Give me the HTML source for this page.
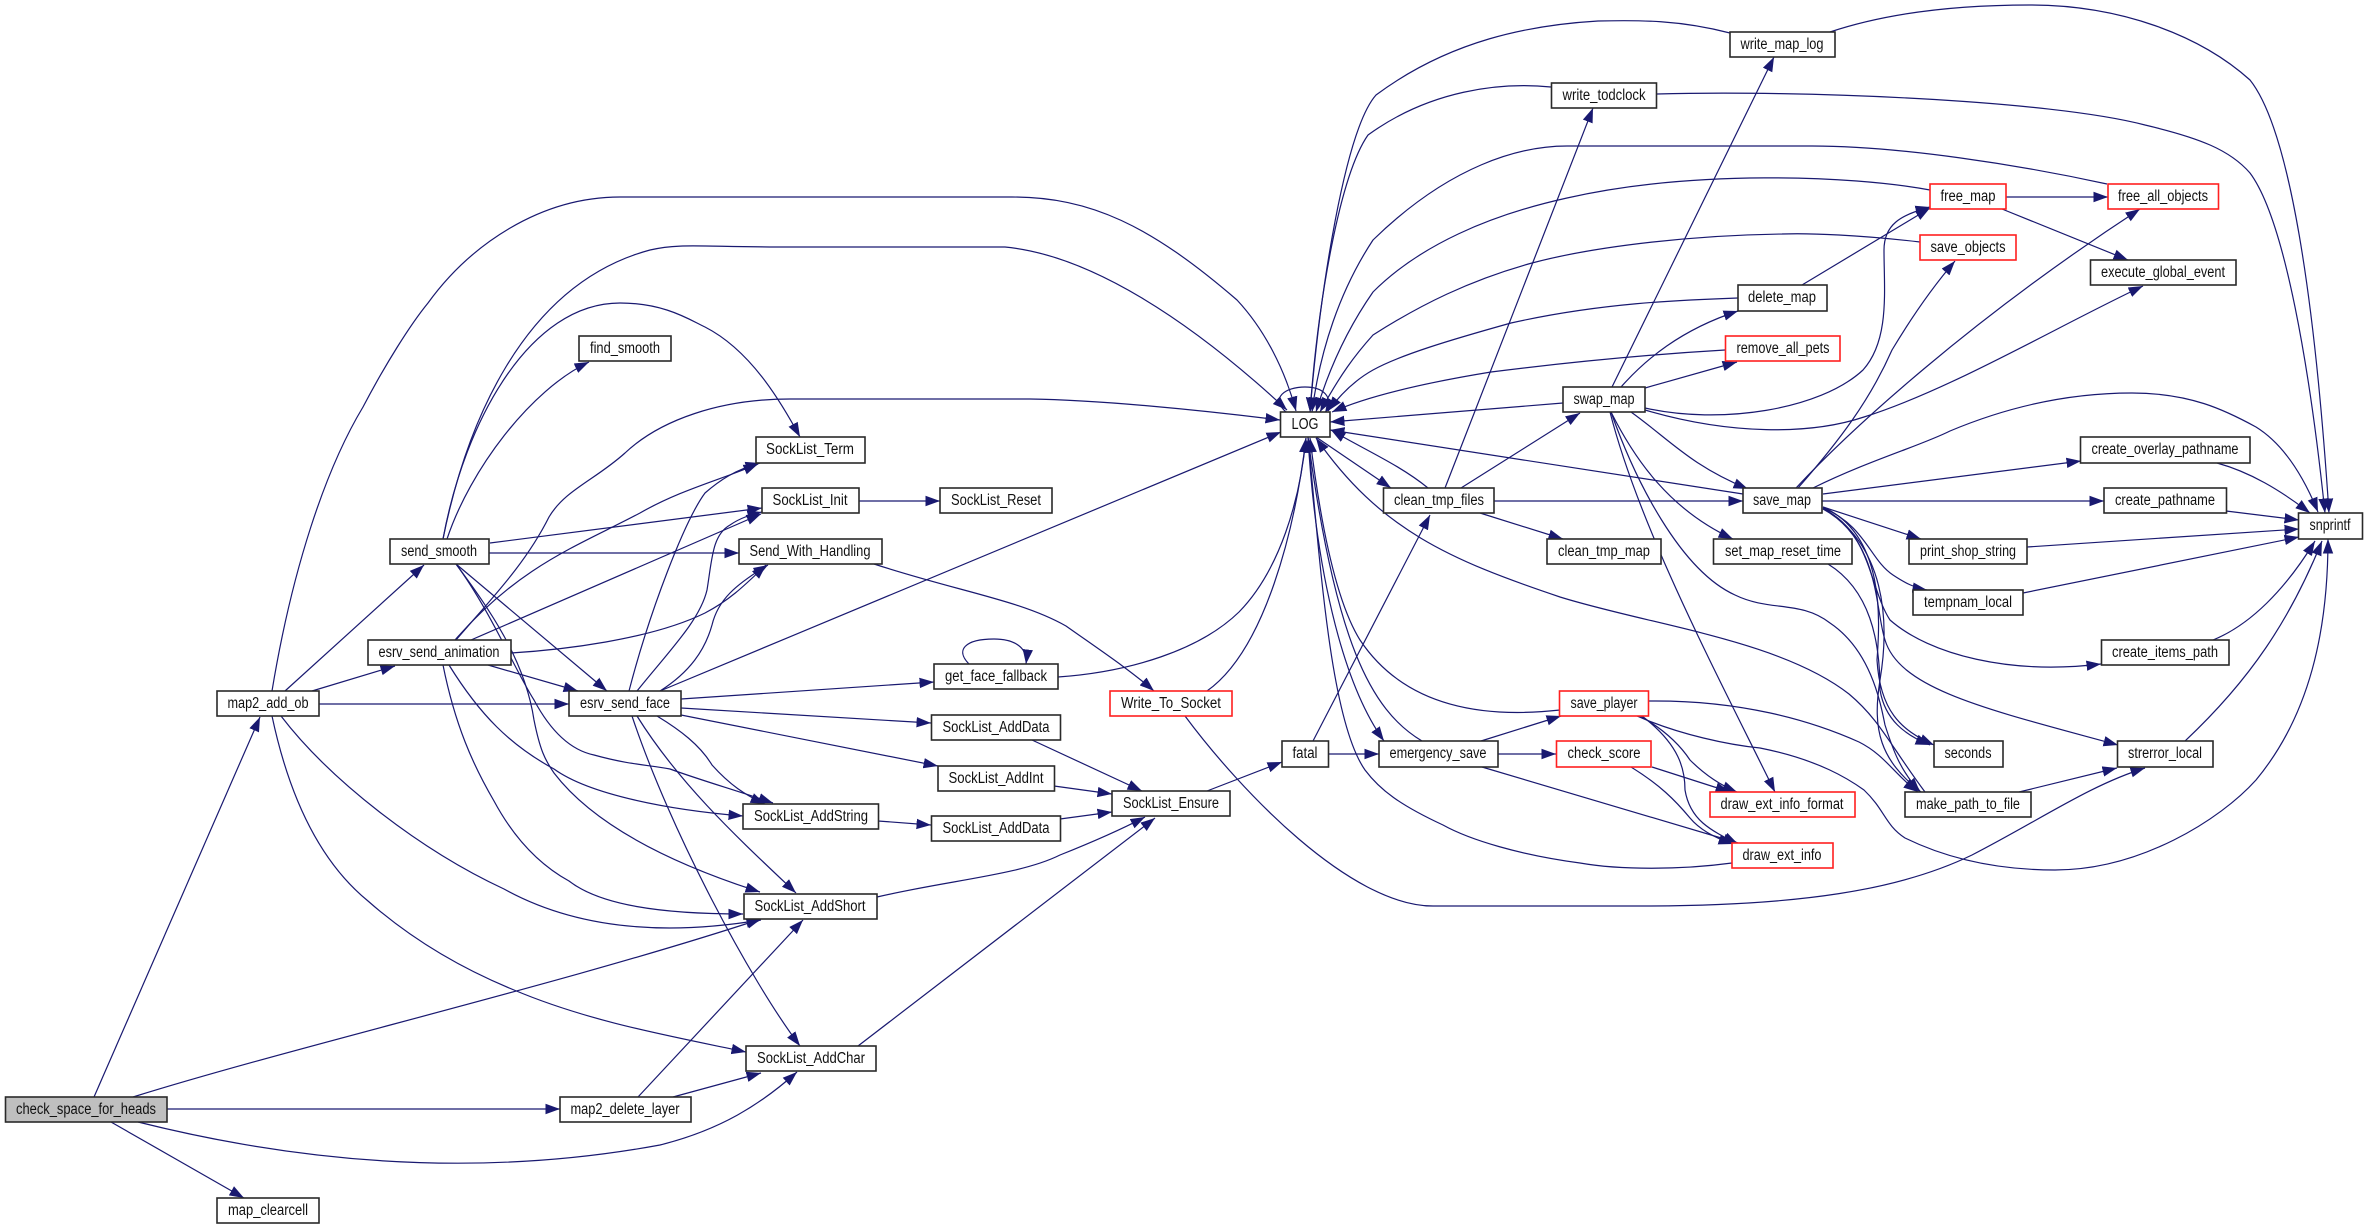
<!DOCTYPE html>
<html><head><meta charset="utf-8"><style>
html,body{margin:0;padding:0;background:#fff}
svg{display:block}
text{font-family:"Liberation Sans",sans-serif;font-size:15.5px;fill:#111;text-anchor:middle}
.n{fill:#fff;stroke:#2a2a2a;stroke-width:1.6}
.r{fill:#fff;stroke:#ff2020;stroke-width:1.6}
.g{fill:#bfbfbf;stroke:#2a2a2a;stroke-width:1.6}
</style></head><body>
<svg width="2368" height="1229" viewBox="0 0 2368 1229" xmlns="http://www.w3.org/2000/svg">
<defs><marker id="a" markerUnits="userSpaceOnUse" markerWidth="16" markerHeight="12" refX="14.5" refY="5.5" orient="auto"><path d="M0,0.3 L14.5,5.5 L0,10.7 z" fill="#191970" stroke="none"/></marker></defs>
<rect width="2368" height="1229" fill="#fff"/>
<g fill="none" stroke="#191970" stroke-width="1.2" marker-end="url(#a)">
<path d="M94,1097 L260,717"/>
<path d="M133,1097 C300,1045 560,985 761,919"/>
<path d="M167,1109 L560,1109"/>
<path d="M138,1122 C290,1160 470,1180 660,1145 C720,1130 760,1105 797,1072"/>
<path d="M111,1122 L244,1198"/>
<path d="M285,691 L424,565"/>
<path d="M312,691 L395,666"/>
<path d="M319,704 L569,704"/>
<path d="M272,691 C292,570 325,470 363,407 C385,365 410,325 428,303 C470,245 540,197 620,197 L1012,197 C1090,197 1150,225 1237,300 C1265,330 1285,370 1296,411"/>
<path d="M281,716 C330,780 420,850 504,889 C560,920 640,940 761,920"/>
<path d="M272,716 C293,815 330,870 368,901 C410,938 460,968 514,990 C590,1022 670,1036 746,1052"/>
<path d="M456,640 C490,600 525,565 549,517 C565,490 595,480 625,453 C660,420 720,399 790,399 L1030,399 C1100,400 1200,410 1280,420"/>
<path d="M455,640 C520,565 580,545 640,513 C680,490 720,480 758,464"/>
<path d="M471,640 L761,514"/>
<path d="M511,653 C560,650 650,640 705,613 C730,600 745,585 766,565"/>
<path d="M443,539 C465,430 520,285 650,250 C680,243 700,247 790,247 L1005,247 C1090,255 1190,320 1287,410"/>
<path d="M447,539 C470,470 530,390 589,362"/>
<path d="M443,539 C465,420 530,303 620,303 C665,303 690,320 705,327 C750,350 780,400 800,437"/>
<path d="M490,543 L762,508"/>
<path d="M489,553 L739,553"/>
<path d="M456,564 L607,691"/>
<path d="M456,564 C490,610 515,670 534,700 C550,730 570,750 594,755 C630,765 650,765 670,769 C700,780 735,790 773,803"/>
<path d="M456,564 C490,610 525,660 534,720 C540,750 545,760 554,773 C590,820 660,860 760,892"/>
<path d="M488,665 L578,691"/>
<path d="M443,665 C455,725 473,765 494,801 C515,840 540,865 569,881 C600,905 660,914 743,914"/>
<path d="M449,665 C480,715 510,745 554,769 C590,795 670,810 743,816"/>
<path d="M629,691 C650,610 685,520 705,493 C720,480 735,470 760,463"/>
<path d="M637,691 C670,650 700,620 707,590 C712,560 712,535 730,525 C740,518 750,515 762,512"/>
<path d="M660,691 C690,672 705,650 712,625 C718,600 735,585 768,565"/>
<path d="M660,691 L1281,432"/>
<path d="M681,699 L934,682"/>
<path d="M681,708 L931,723"/>
<path d="M681,715 L938,766"/>
<path d="M657,716 C680,730 700,745 712,765 C730,785 745,795 765,804"/>
<path d="M637,716 C680,785 740,840 796,893"/>
<path d="M632,716 C670,830 750,980 800,1046"/>
<path d="M859,501 L940,501"/>
<path d="M874,564 C960,592 1020,600 1066,626 C1100,650 1130,670 1154,691"/>
<path d="M969,664 C955,650 965,639 994,639 C1015,639 1028,648 1026,664"/>
<path d="M1058,677 C1130,672 1200,650 1239,612 C1280,570 1300,500 1306,438"/>
<path d="M1207,691 C1265,650 1295,530 1306,438"/>
<path d="M1185,716 C1240,790 1350,906 1433,906 L1640,906 C1800,906 1900,890 1972,855 C2040,820 2090,785 2145,768"/>
<path d="M1032,740 L1142,791"/>
<path d="M1054,786 L1112,794"/>
<path d="M878,821 L931,825"/>
<path d="M1060,819 L1112,812"/>
<path d="M877,897 C950,880 1020,875 1060,855 C1090,843 1120,830 1145,817"/>
<path d="M858,1046 L1155,818"/>
<path d="M1207,791 L1282,762"/>
<path d="M1313,741 L1430,515"/>
<path d="M1328,754 L1379,754"/>
<path d="M1286,412 C1270,398 1285,387 1305,387 C1322,387 1335,396 1325,413"/>
<path d="M1316,437 L1391,488"/>
<path d="M1428,488 C1400,465 1365,450 1331,430"/>
<path d="M1308,437 C1315,560 1340,680 1384,741"/>
<path d="M1422,741 C1370,710 1335,640 1308,438"/>
<path d="M1560,710 C1470,720 1400,700 1360,640 C1335,600 1320,520 1310,438"/>
<path d="M1732,863 C1680,870 1620,870 1580,863 C1520,855 1470,840 1443,825 C1400,805 1380,790 1365,770 C1330,720 1320,560 1308,438"/>
<path d="M1925,792 C1890,745 1880,720 1849,694 C1780,640 1650,625 1560,597 C1450,560 1380,530 1316,438"/>
<path d="M1730,33 C1680,20 1640,20 1598,21 C1530,25 1450,40 1376,95 C1345,130 1320,290 1310,412"/>
<path d="M1551,87 C1500,82 1430,90 1368,135 C1340,175 1318,300 1310,412"/>
<path d="M2107,184 C2020,165 1900,146 1812,146 L1567,146 C1520,146 1450,165 1373,240 C1340,290 1320,350 1312,412"/>
<path d="M1930,190 C1850,175 1690,170 1567,198 C1490,215 1420,245 1373,292 C1350,325 1330,365 1316,412"/>
<path d="M1920,242 C1860,235 1810,233 1782,234 C1700,235 1600,245 1532,263 C1470,280 1420,305 1373,335 C1355,355 1340,375 1320,412"/>
<path d="M1738,298 C1680,300 1600,303 1511,323 C1450,340 1400,355 1373,370 C1355,380 1340,395 1328,411"/>
<path d="M1725,350 C1640,355 1570,362 1491,372 C1430,382 1370,395 1332,412"/>
<path d="M1563,403 L1330,422"/>
<path d="M1743,494 L1330,430"/>
<path d="M1445,488 L1593,108"/>
<path d="M1461,488 L1580,413"/>
<path d="M1494,501 L1743,501"/>
<path d="M1480,513 L1563,539"/>
<path d="M1612,387 L1774,57"/>
<path d="M1621,387 C1645,360 1680,330 1738,311"/>
<path d="M1645,388 L1737,362"/>
<path d="M1645,408 C1720,425 1820,410 1863,370 C1890,340 1884,290 1884,250 C1884,225 1900,215 1930,207"/>
<path d="M1645,410 C1730,435 1810,435 1864,417 C1950,390 2060,325 2143,286"/>
<path d="M1631,412 C1670,440 1690,465 1748,489"/>
<path d="M1611,412 C1635,460 1670,510 1733,539"/>
<path d="M1611,412 C1635,480 1680,570 1735,595 C1770,612 1800,600 1830,623 C1870,650 1880,700 1885,725 C1893,750 1900,770 1920,792"/>
<path d="M1610,412 C1640,530 1720,680 1775,792"/>
<path d="M1796,488 C1850,430 1970,320 2140,209"/>
<path d="M1798,488 C1840,440 1870,400 1892,350 C1910,320 1930,290 1955,261"/>
<path d="M1813,488 C1870,460 1920,446 1950,431 C2000,410 2060,393 2132,393 C2190,393 2225,410 2256,427 C2285,445 2305,480 2318,512"/>
<path d="M1823,494 L2081,461"/>
<path d="M1822,501 L2104,501"/>
<path d="M1823,507 L1921,539"/>
<path d="M1823,508 C1865,525 1870,560 1893,575 C1905,583 1915,588 1927,590"/>
<path d="M1823,509 C1870,530 1870,590 1890,620 C1930,655 2010,675 2101,664"/>
<path d="M1823,509 C1880,540 1875,610 1885,640 C1900,690 1990,710 2118,745"/>
<path d="M1823,507 C1885,535 1880,620 1877,660 C1880,710 1900,730 1934,745"/>
<path d="M1823,508 C1885,545 1890,620 1880,680 C1872,730 1880,760 1921,792"/>
<path d="M1649,701 C1740,700 1810,720 1859,742 C1885,755 1895,775 1918,792"/>
<path d="M1637,716 C1680,735 1730,745 1760,748 C1820,760 1850,780 1864,790 C1885,810 1885,825 1905,838 C1950,860 2000,870 2055,870 C2140,870 2220,820 2256,780 C2310,715 2328,630 2328,539"/>
<path d="M1640,716 C1665,730 1680,745 1690,760 C1705,775 1720,785 1737,792"/>
<path d="M1642,716 C1680,745 1685,770 1685,790 C1690,820 1710,830 1738,844"/>
<path d="M1652,767 L1730,792"/>
<path d="M1631,767 C1660,785 1675,800 1690,818 C1700,830 1715,838 1733,844"/>
<path d="M1481,741 L1561,716"/>
<path d="M1498,754 L1556,754"/>
<path d="M1482,767 L1738,843"/>
<path d="M1830,32 C1890,12 1960,5 2030,5 C2120,5 2200,35 2250,80 C2290,130 2315,300 2329,513"/>
<path d="M1657,94 C1800,90 2050,100 2145,125 C2200,138 2230,150 2250,173 C2285,220 2310,370 2325,513"/>
<path d="M2006,197 L2108,197"/>
<path d="M2002,209 L2128,260"/>
<path d="M1802,285 L1930,208"/>
<path d="M2217,463 C2250,472 2280,490 2310,513"/>
<path d="M2226,511 L2299,520"/>
<path d="M2027,547 L2299,529"/>
<path d="M2023,593 L2299,537"/>
<path d="M2213,640 C2250,625 2285,590 2315,541"/>
<path d="M2185,741 C2250,680 2290,620 2322,541"/>
<path d="M2019,792 L2117,768"/>
<path d="M1828,564 C1870,590 1880,640 1880,690 C1885,720 1905,735 1930,745"/>
<path d="M638,1097 L803,920"/>
<path d="M673,1097 L761,1073"/>
</g>
<g>
<rect class="g" x="5.5" y="1097" width="161.5" height="25"/><text x="86" y="1114" textLength="140" lengthAdjust="spacingAndGlyphs">check_space_for_heads</text>
<rect class="n" x="217" y="691" width="102" height="25"/><text x="268" y="708" textLength="81" lengthAdjust="spacingAndGlyphs">map2_add_ob</text>
<rect class="n" x="368" y="640" width="143" height="25"/><text x="439" y="657" textLength="121" lengthAdjust="spacingAndGlyphs">esrv_send_animation</text>
<rect class="n" x="569" y="691" width="112" height="25"/><text x="625" y="708" textLength="90" lengthAdjust="spacingAndGlyphs">esrv_send_face</text>
<rect class="n" x="560" y="1097" width="131" height="25"/><text x="625" y="1114" textLength="109" lengthAdjust="spacingAndGlyphs">map2_delete_layer</text>
<rect class="n" x="217" y="1198" width="102" height="25"/><text x="268" y="1215" textLength="80" lengthAdjust="spacingAndGlyphs">map_clearcell</text>
<rect class="n" x="390" y="539" width="99" height="25"/><text x="439" y="556" textLength="76" lengthAdjust="spacingAndGlyphs">send_smooth</text>
<rect class="n" x="579" y="336" width="92" height="25"/><text x="625" y="353" textLength="70" lengthAdjust="spacingAndGlyphs">find_smooth</text>
<rect class="n" x="756" y="437" width="109" height="26"/><text x="810" y="454" textLength="88" lengthAdjust="spacingAndGlyphs">SockList_Term</text>
<rect class="n" x="762" y="488" width="97" height="25"/><text x="810" y="505" textLength="75" lengthAdjust="spacingAndGlyphs">SockList_Init</text>
<rect class="n" x="940" y="488" width="112" height="25"/><text x="996" y="505" textLength="90" lengthAdjust="spacingAndGlyphs">SockList_Reset</text>
<rect class="n" x="739" y="539" width="143" height="25"/><text x="810" y="556" textLength="121" lengthAdjust="spacingAndGlyphs">Send_With_Handling</text>
<rect class="n" x="934" y="664" width="124" height="25"/><text x="996" y="681" textLength="102" lengthAdjust="spacingAndGlyphs">get_face_fallback</text>
<rect class="n" x="931.5" y="715" width="129" height="25"/><text x="996" y="732" textLength="107" lengthAdjust="spacingAndGlyphs">SockList_AddData</text>
<rect class="n" x="938" y="766" width="116.5" height="25"/><text x="996" y="783" textLength="95" lengthAdjust="spacingAndGlyphs">SockList_AddInt</text>
<rect class="n" x="743" y="804" width="135.5" height="25"/><text x="811" y="821" textLength="114" lengthAdjust="spacingAndGlyphs">SockList_AddString</text>
<rect class="n" x="931.5" y="816" width="129" height="25"/><text x="996" y="833" textLength="107" lengthAdjust="spacingAndGlyphs">SockList_AddData</text>
<rect class="n" x="744" y="894" width="133" height="25"/><text x="810" y="911" textLength="111" lengthAdjust="spacingAndGlyphs">SockList_AddShort</text>
<rect class="n" x="746" y="1046" width="130" height="25"/><text x="811" y="1063" textLength="108" lengthAdjust="spacingAndGlyphs">SockList_AddChar</text>
<rect class="n" x="1112" y="791" width="118" height="25"/><text x="1171" y="808" textLength="96" lengthAdjust="spacingAndGlyphs">SockList_Ensure</text>
<rect class="r" x="1110" y="691" width="122" height="25"/><text x="1171" y="708" textLength="100" lengthAdjust="spacingAndGlyphs">Write_To_Socket</text>
<rect class="n" x="1280.5" y="412" width="49.5" height="25"/><text x="1305" y="429" textLength="27" lengthAdjust="spacingAndGlyphs">LOG</text>
<rect class="n" x="1282" y="741" width="46.5" height="26"/><text x="1305" y="758" textLength="25" lengthAdjust="spacingAndGlyphs">fatal</text>
<rect class="n" x="1379" y="741" width="119" height="26"/><text x="1438" y="758" textLength="97" lengthAdjust="spacingAndGlyphs">emergency_save</text>
<rect class="n" x="1383.5" y="488" width="110.5" height="25"/><text x="1439" y="505" textLength="90" lengthAdjust="spacingAndGlyphs">clean_tmp_files</text>
<rect class="n" x="1563" y="387" width="82" height="25"/><text x="1604" y="404" textLength="61" lengthAdjust="spacingAndGlyphs">swap_map</text>
<rect class="n" x="1547" y="539" width="114" height="25"/><text x="1604" y="556" textLength="92" lengthAdjust="spacingAndGlyphs">clean_tmp_map</text>
<rect class="n" x="1551.5" y="83" width="105" height="25"/><text x="1604" y="100" textLength="83" lengthAdjust="spacingAndGlyphs">write_todclock</text>
<rect class="r" x="1559.5" y="691" width="89" height="25"/><text x="1604" y="708" textLength="67" lengthAdjust="spacingAndGlyphs">save_player</text>
<rect class="r" x="1556.5" y="741" width="94.5" height="26"/><text x="1604" y="758" textLength="73" lengthAdjust="spacingAndGlyphs">check_score</text>
<rect class="n" x="1730" y="32" width="105" height="25"/><text x="1782" y="49" textLength="83" lengthAdjust="spacingAndGlyphs">write_map_log</text>
<rect class="n" x="1738" y="285" width="89" height="26"/><text x="1782" y="302" textLength="68" lengthAdjust="spacingAndGlyphs">delete_map</text>
<rect class="r" x="1725.5" y="336" width="114.5" height="25"/><text x="1783" y="353" textLength="93" lengthAdjust="spacingAndGlyphs">remove_all_pets</text>
<rect class="n" x="1743" y="488" width="79" height="25"/><text x="1782" y="505" textLength="58" lengthAdjust="spacingAndGlyphs">save_map</text>
<rect class="n" x="1713.5" y="539" width="138.5" height="25"/><text x="1783" y="556" textLength="116" lengthAdjust="spacingAndGlyphs">set_map_reset_time</text>
<rect class="r" x="1710" y="792" width="145" height="25"/><text x="1782" y="809" textLength="123" lengthAdjust="spacingAndGlyphs">draw_ext_info_format</text>
<rect class="r" x="1732" y="843" width="101" height="25"/><text x="1782" y="860" textLength="79" lengthAdjust="spacingAndGlyphs">draw_ext_info</text>
<rect class="r" x="1930" y="184" width="76" height="25"/><text x="1968" y="201" textLength="55" lengthAdjust="spacingAndGlyphs">free_map</text>
<rect class="r" x="1920" y="235" width="96" height="25"/><text x="1968" y="252" textLength="75" lengthAdjust="spacingAndGlyphs">save_objects</text>
<rect class="n" x="1909" y="539" width="118" height="25"/><text x="1968" y="556" textLength="96" lengthAdjust="spacingAndGlyphs">print_shop_string</text>
<rect class="n" x="1913" y="590" width="110" height="25"/><text x="1968" y="607" textLength="88" lengthAdjust="spacingAndGlyphs">tempnam_local</text>
<rect class="n" x="1934" y="741" width="69" height="26"/><text x="1968" y="758" textLength="47" lengthAdjust="spacingAndGlyphs">seconds</text>
<rect class="n" x="1905" y="792" width="126" height="25"/><text x="1968" y="809" textLength="104" lengthAdjust="spacingAndGlyphs">make_path_to_file</text>
<rect class="r" x="2108" y="184" width="110.5" height="25"/><text x="2163" y="201" textLength="90" lengthAdjust="spacingAndGlyphs">free_all_objects</text>
<rect class="n" x="2090.5" y="260" width="145.5" height="25"/><text x="2163" y="277" textLength="124" lengthAdjust="spacingAndGlyphs">execute_global_event</text>
<rect class="n" x="2080.5" y="437" width="169.5" height="26"/><text x="2165" y="454" textLength="147" lengthAdjust="spacingAndGlyphs">create_overlay_pathname</text>
<rect class="n" x="2104" y="488" width="122.5" height="25"/><text x="2165" y="505" textLength="100" lengthAdjust="spacingAndGlyphs">create_pathname</text>
<rect class="n" x="2101.5" y="640" width="127.5" height="25"/><text x="2165" y="657" textLength="106" lengthAdjust="spacingAndGlyphs">create_items_path</text>
<rect class="n" x="2117.5" y="741" width="95.5" height="26"/><text x="2165" y="758" textLength="74" lengthAdjust="spacingAndGlyphs">strerror_local</text>
<rect class="n" x="2298.5" y="513" width="64" height="26"/><text x="2330" y="530" textLength="41" lengthAdjust="spacingAndGlyphs">snprintf</text>
</g>
</svg>
</body></html>
